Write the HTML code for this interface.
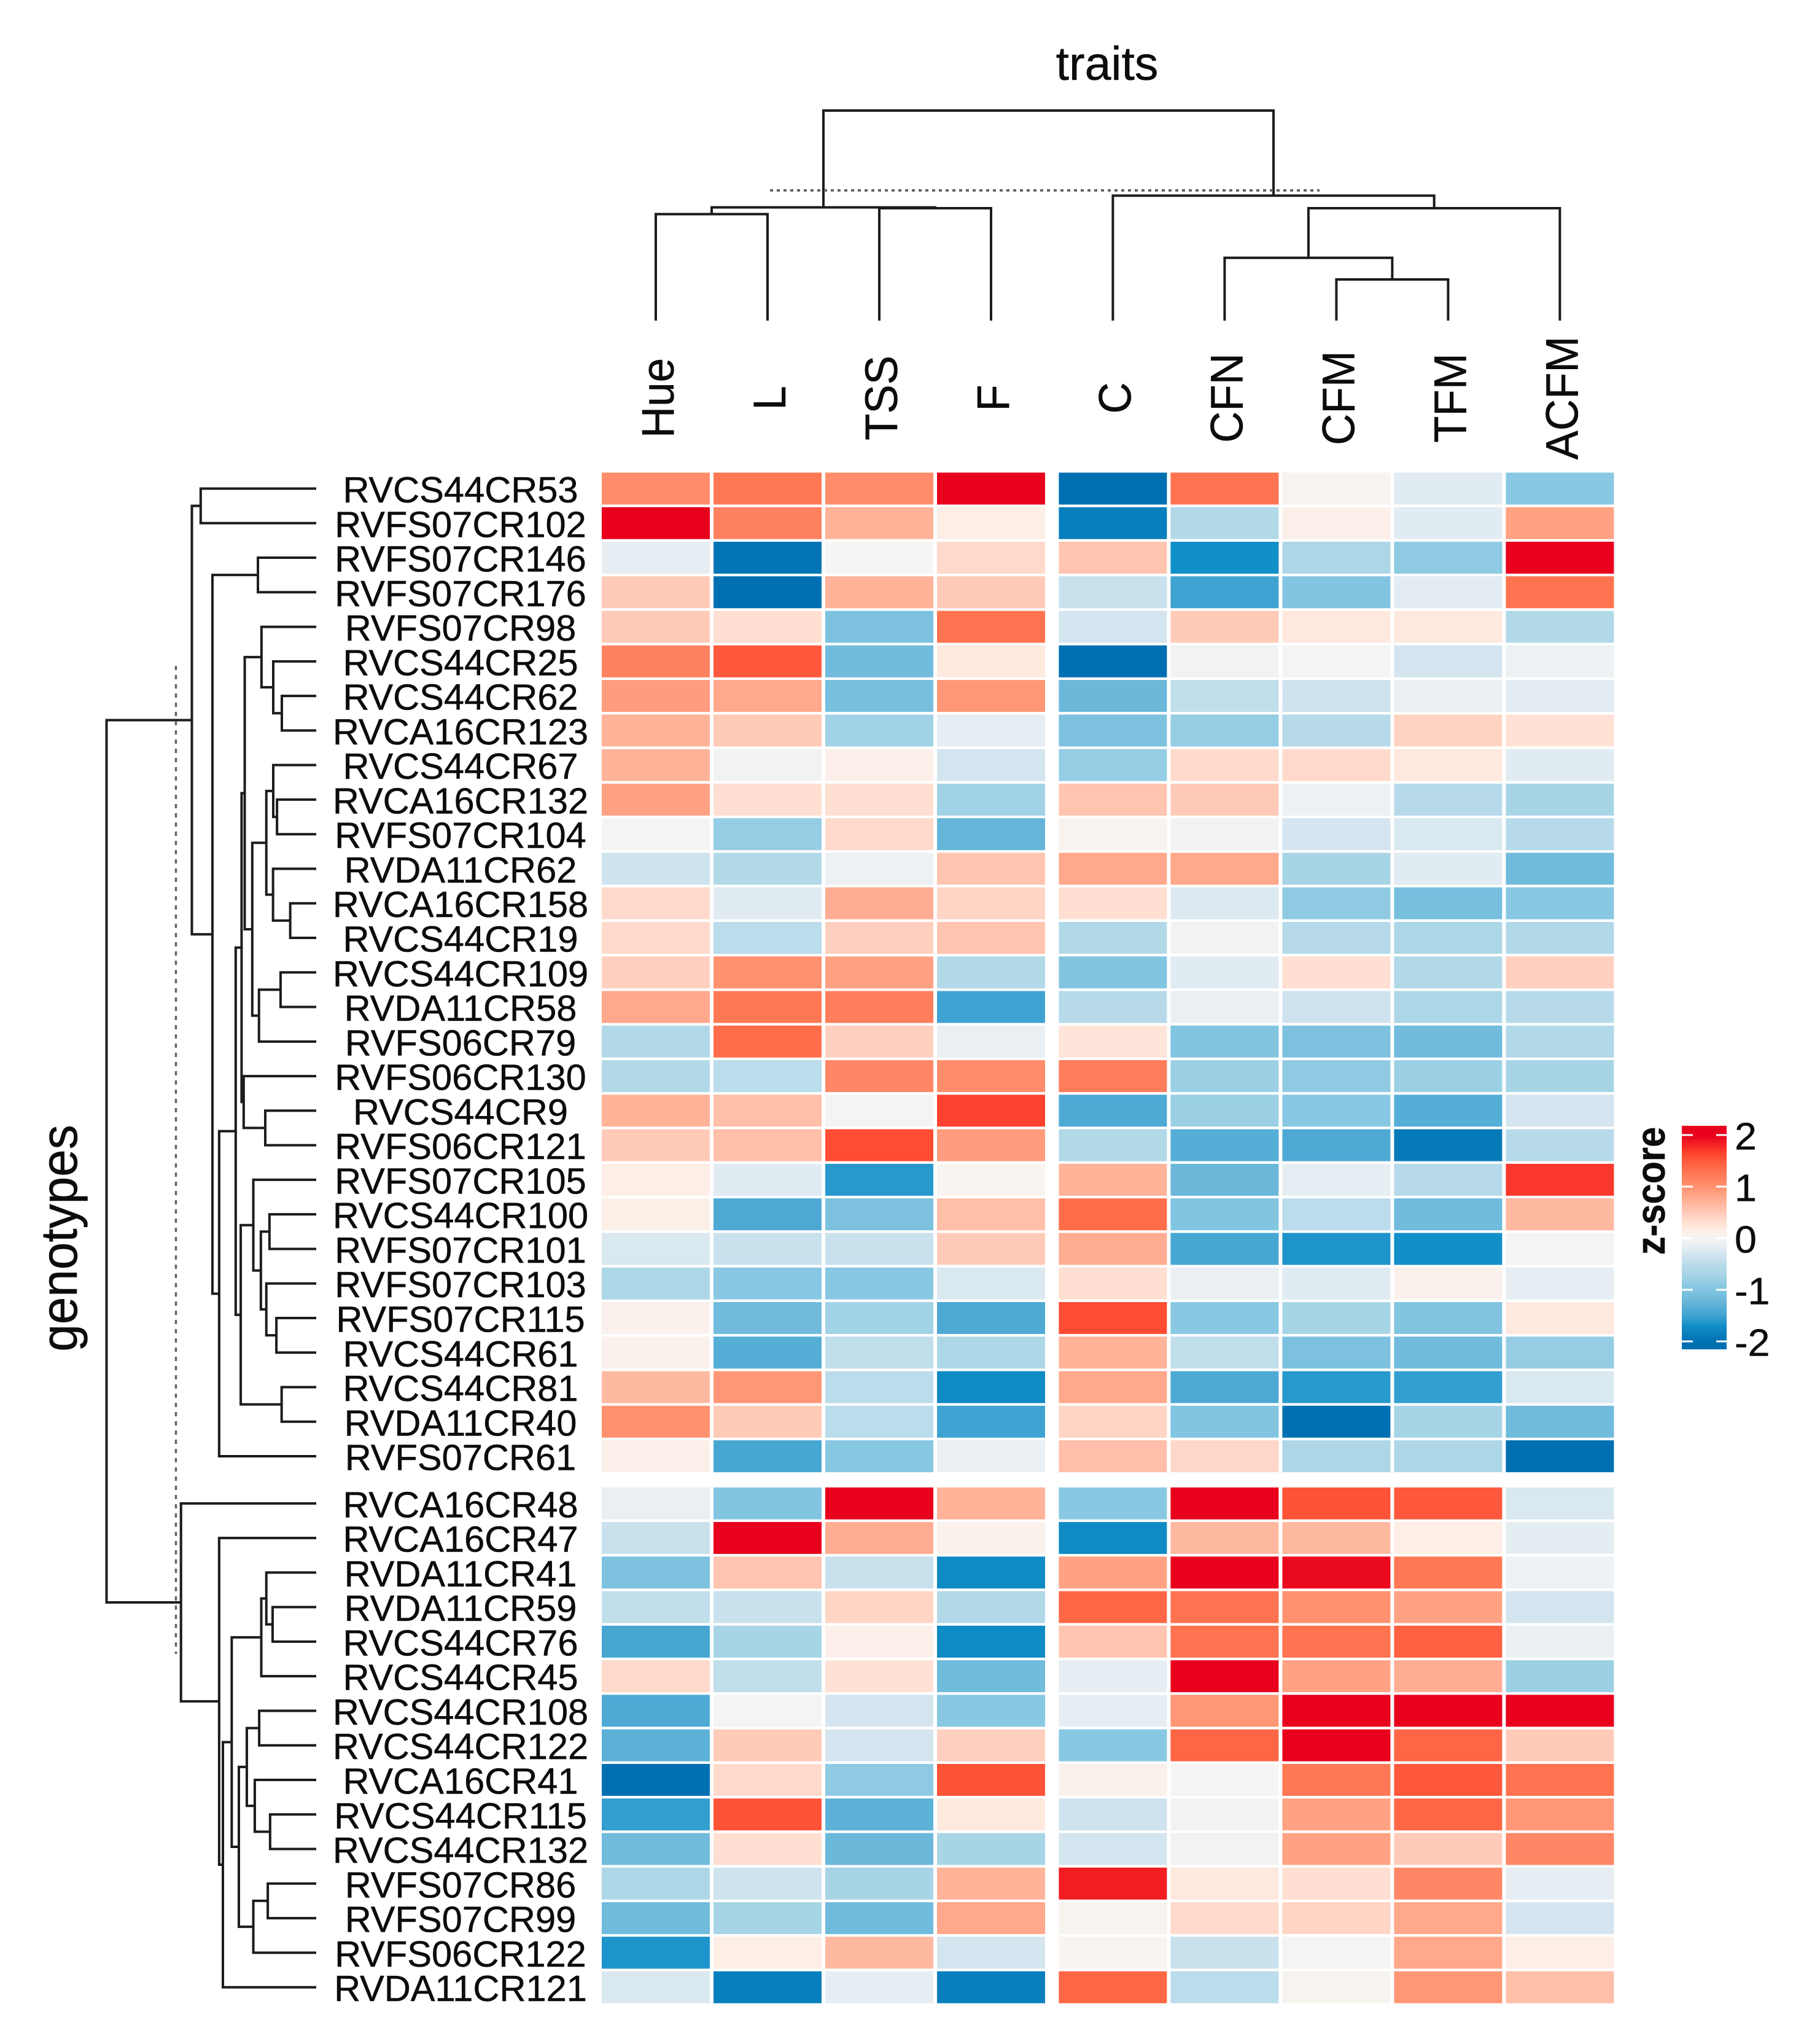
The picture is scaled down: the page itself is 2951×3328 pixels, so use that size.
<!DOCTYPE html>
<html lang="en">
<head>
<meta charset="utf-8">
<title>Genotype by trait z-score heatmap</title>
<style>
  html, body { margin: 0; padding: 0; background: #fff; }
  svg { display: block; }
  text { font-family: "Liberation Sans", Arial, sans-serif; fill: #0c0c0c; stroke: #0c0c0c; stroke-width: 0.5; }
</style>
</head>
<body>
<svg id="chart" xmlns="http://www.w3.org/2000/svg" width="2951" height="3328" viewBox="0 0 2951 3328">
  <rect x="0" y="0" width="2951" height="3328" fill="#ffffff"/>
  <text text-anchor="middle" font-size="77" transform="translate(1803,130)">traits</text>
  <text text-anchor="middle" font-size="80" transform="translate(125,2016) rotate(-90) scale(1,1.04)">genotypes</text>
  <g id="col-dendrogram"></g>
  <g id="row-dendrogram"></g>
  <line x1="1254" y1="310" x2="2149" y2="310" stroke="#666" stroke-width="4" stroke-dasharray="5 6"/>
  <line x1="286.5" y1="1084" x2="286.5" y2="2693" stroke="#666" stroke-width="3.5" stroke-dasharray="7 8"/>
  <g id="col-labels"></g>
  <g id="row-labels"></g>
  <g id="cells"></g>
  <g id="legend">
    <text text-anchor="middle" font-size="59.5" font-weight="700" transform="translate(2711,1939) rotate(-90) scale(1,1.1)">z-score</text>
  </g>
</svg>
<script>
// ---- Chart data ----
const traitLabels = ["Hue","L","TSS","F","C","CFN","CFM","TFM","ACFM"];
const genotypeLabels = [
  "RVCS44CR53","RVFS07CR102","RVFS07CR146","RVFS07CR176","RVFS07CR98","RVCS44CR25","RVCS44CR62","RVCA16CR123",
  "RVCS44CR67","RVCA16CR132","RVFS07CR104","RVDA11CR62","RVCA16CR158","RVCS44CR19","RVCS44CR109","RVDA11CR58",
  "RVFS06CR79","RVFS06CR130","RVCS44CR9","RVFS06CR121","RVFS07CR105","RVCS44CR100","RVFS07CR101","RVFS07CR103",
  "RVFS07CR115","RVCS44CR61","RVCS44CR81","RVDA11CR40","RVFS07CR61",
  "RVCA16CR48","RVCA16CR47","RVDA11CR41","RVDA11CR59","RVCS44CR76","RVCS44CR45","RVCS44CR108","RVCS44CR122",
  "RVCA16CR41","RVCS44CR115","RVCS44CR132","RVFS07CR86","RVFS07CR99","RVFS06CR122","RVDA11CR121"
];
const zScores = [
  [1.05,1.25,1.05,2,-2,1.3,0.05,-0.2,-0.95],
  [2,1.15,0.7,0.15,-1.85,-0.6,0.12,-0.2,0.85],
  [-0.15,-1.95,0,0.35,0.55,-1.7,-0.65,-0.9,2],
  [0.5,-2,0.7,0.5,-0.4,-1.5,-1,-0.18,1.3],
  [0.5,0.3,-1.05,1.3,-0.3,0.5,0.2,0.2,-0.6],
  [1.15,1.5,-1.15,0.2,-2,-0.05,-0.02,-0.3,-0.08],
  [0.9,0.8,-1.1,0.95,-1.2,-0.45,-0.35,-0.12,-0.18],
  [0.7,0.5,-0.75,-0.15,-1.05,-0.85,-0.55,0.42,0.28],
  [0.7,-0.05,0.12,-0.3,-0.85,0.35,0.35,0.2,-0.2],
  [0.85,0.3,0.3,-0.75,0.55,0.5,-0.08,-0.55,-0.7],
  [-0.02,-0.85,0.35,-1.25,0.05,-0.05,-0.3,-0.25,-0.55],
  [-0.35,-0.6,-0.08,0.55,0.8,0.8,-0.7,-0.2,-1.15],
  [0.35,-0.2,0.75,0.4,0.3,-0.22,-0.9,-1.1,-0.95],
  [0.35,-0.5,0.45,0.55,-0.6,-0.05,-0.55,-0.65,-0.6],
  [0.45,1,0.85,-0.6,-1,-0.2,0.3,-0.6,0.45],
  [0.8,1.25,1.2,-1.5,-0.55,-0.12,-0.35,-0.65,-0.55],
  [-0.6,1.35,0.45,-0.12,0.25,-1,-1.05,-1.15,-0.6],
  [-0.6,-0.5,1.1,1.05,1.2,-0.8,-0.9,-0.8,-0.7],
  [0.7,0.6,-0.02,1.65,-1.4,-0.8,-0.95,-1.35,-0.3],
  [0.5,0.6,1.6,0.9,-0.6,-1.35,-1.4,-1.9,-0.55],
  [0.15,-0.2,-1.6,0.02,0.7,-1.2,-0.15,-0.55,1.7],
  [0.13,-1.4,-1.05,0.6,1.35,-1,-0.5,-1.15,0.65],
  [-0.25,-0.4,-0.4,0.5,0.75,-1.45,-1.65,-1.7,-0.02],
  [-0.65,-0.95,-0.95,-0.25,0.3,-0.12,-0.2,0.08,-0.15],
  [0.08,-1.15,-0.75,-1.4,1.6,-0.95,-0.7,-1,0.2],
  [0.08,-1.35,-0.45,-0.65,0.7,-0.45,-1.05,-1.15,-0.85],
  [0.65,0.95,-0.5,-1.75,0.8,-1.4,-1.6,-1.55,-0.25],
  [1,0.5,-0.5,-1.5,0.4,-1,-2,-0.7,-1.15],
  [0.12,-1.45,-0.95,-0.12,0.6,0.38,-0.65,-0.65,-2],
  [-0.12,-1,2,0.7,-0.95,2,1.55,1.5,-0.25],
  [-0.4,2,0.75,0.08,-1.75,0.65,0.65,0.15,-0.17],
  [-1.05,0.55,-0.4,-1.75,0.85,2,1.95,1.25,-0.08],
  [-0.45,-0.4,0.4,-0.6,1.4,1.3,1,0.85,-0.3],
  [-1.45,-0.7,0.12,-1.75,0.55,1.3,1.3,1.45,-0.1],
  [0.35,-0.45,0.28,-1.15,-0.15,2,0.85,0.75,-0.8],
  [-1.4,-0.02,-0.3,-0.95,-0.15,0.95,2,2,2],
  [-1.3,0.5,-0.3,0.45,-0.95,1.4,2,1.4,0.5],
  [-2,0.35,-0.9,1.55,0.08,0,1.25,1.5,1.3],
  [-1.55,1.55,-1.3,0.2,-0.35,-0.05,0.85,1.4,0.95],
  [-1.15,0.3,-1.2,-0.7,-0.3,-0.05,0.85,0.5,1.1],
  [-0.65,-0.35,-0.7,0.7,1.85,0.2,0.3,1.1,-0.15],
  [-1.15,-0.7,-1.15,0.8,0.03,0.35,0.4,0.8,-0.3],
  [-1.65,0.15,0.65,-0.3,0.02,-0.4,-0.02,0.8,0.15],
  [-0.25,-1.85,-0.15,-1.85,1.4,-0.5,0.03,0.95,0.6]
];
// dendrogram merges: [left child, right child, merge height]; leaves are indices
const traitTree = [[[0,1,5.07],[2,3,5.35],5.39],[4,[[5,[6,7,1.96],2.99],8,5.35],5.95],10];
const genotypeTree = [
  [
    [0,1,5.51],
    [[2,3,2.78],
     [[[[[4,[5,[6,7,1.64],2.05],2.61],
        [[[8,[9,10,1.87],2.05],[11,[12,13,1.24],2.06],2.38],[[14,15,1.70],16,2.73],3.05],3.41],
       [17,[18,19,2.43],3.46],3.56],
      [[20,[[21,22,2.23],[23,[24,25,1.90],2.38],2.64],3.00],[26,27,1.65],3.60],3.84],
      28,4.63],4.95],5.93],
  [29,[30,[[[[31,[32,33,2.08],2.38],34,2.62],
        [[[35,36,2.72],[37,[38,39,2.20],2.93],3.31],[[40,41,2.31],42,3.00],3.69],4.03],
       43,4.45],4.63],6.45],
  10
];
const legendTicks = [2,1,0,-1,-2];
const colorValues = [-2,-1.7,-1.5,-1.2,-1,-0.7,-0.5,-0.3,-0.15,0,0.15,0.3,0.5,0.7,1,1.3,1.6,1.8,2];
const colorHexes = ["#0070b2","#118fc8","#3fa3d2","#6bb8da","#82c5e1","#a8d5e6","#bbdcea","#d4e5ef","#e6eef3","#f6f5f3","#fdeee6","#ffdfd2","#ffcbb8","#ffb399","#ff916f","#ff7350","#ff4c33","#f52525","#e8001c"];

// ---- Axis functions ----
const SVG_NS = "http://www.w3.org/2000/svg";
function colCenter(i) { return colLeft(i) + 88; }
function colLeft(i) { return 980 + i * 182 + (i >= 4 ? 16.4 : 0); }
function rowTop(i) { return 769.5 + i * 56.27 + (i >= 29 ? 20.5 : 0); }
function rowCenter(i) { return rowTop(i) + 26; }
function colHeightY(h) { return 522 - h * 34.2; }
function rowHeightX(h) { return 515 - h * 34.15; }
function legendY(v) { return 2016 - v * 84; }

function hexToRgb(hex) {
  return [parseInt(hex.slice(1,3),16), parseInt(hex.slice(3,5),16), parseInt(hex.slice(5,7),16)];
}
function colorOf(v) {
  const c = Math.max(colorValues[0], Math.min(colorValues[colorValues.length-1], v));
  for (let i = 1; i < colorValues.length; i++) {
    if (c <= colorValues[i]) {
      const t = (c - colorValues[i-1]) / (colorValues[i] - colorValues[i-1]);
      const a = hexToRgb(colorHexes[i-1]), b = hexToRgb(colorHexes[i]);
      return "rgb(" + a.map((x,k) => Math.round(x + (b[k]-x)*t)).join(",") + ")";
    }
  }
  return colorHexes[colorHexes.length-1];
}
function mk(tag, attrs, parent) {
  const el = document.createElementNS(SVG_NS, tag);
  for (const k in attrs) el.setAttribute(k, attrs[k]);
  parent.appendChild(el);
  return el;
}

// ---- Heatmap cells ----
const cellsG = document.getElementById("cells");
zScores.forEach((row, r) => {
  row.forEach((v, c) => {
    const el = mk("rect", {x: colLeft(c), y: rowTop(r), width: 176, height: 52, fill: colorOf(v)}, cellsG);
    
    
  });
});

// ---- Labels ----
const rowLabelG = document.getElementById("row-labels");
genotypeLabels.forEach((label, r) => {
  const el = mk("text", {"text-anchor": "middle", "font-size": 59.6,
    transform: "translate(750," + (rowCenter(r) + 22.5) + ")"}, rowLabelG);
  el.textContent = label;
  
  
});
const colLabelG = document.getElementById("col-labels");
traitLabels.forEach((label, c) => {
  const el = mk("text", {"text-anchor": "middle", "font-size": 71,
    transform: "translate(" + (colCenter(c) + 29) + ",648) rotate(-90) scale(1,1.04)"}, colLabelG);
  el.textContent = label;
  
  
});

// ---- Dendrograms ----
function drawColNode(node, parent) {
  if (typeof node === "number") return {pos: colCenter(node), h: 0};
  const a = drawColNode(node[0], parent), b = drawColNode(node[1], parent), h = node[2];
  const d = "M" + a.pos + " " + colHeightY(a.h) + "V" + colHeightY(h) + "H" + b.pos + "V" + colHeightY(b.h);
  const el = mk("path", {d: d, fill: "none", stroke: "#1c1c1c", "stroke-width": 4}, parent);
  
  
  return {pos: (a.pos + b.pos) / 2, h: h};
}
function drawRowNode(node, parent) {
  if (typeof node === "number") return {pos: rowCenter(node), h: 0};
  const a = drawRowNode(node[0], parent), b = drawRowNode(node[1], parent), h = node[2];
  const d = "M" + rowHeightX(a.h) + " " + a.pos + "H" + rowHeightX(h) + "V" + b.pos + "H" + rowHeightX(b.h);
  const el = mk("path", {d: d, fill: "none", stroke: "#1c1c1c", "stroke-width": 4}, parent);
  
  
  return {pos: (a.pos + b.pos) / 2, h: h};
}
drawColNode(traitTree, document.getElementById("col-dendrogram"));
drawRowNode(genotypeTree, document.getElementById("row-dendrogram"));

// ---- Legend ----
const legendG = document.getElementById("legend");
const svgRoot = document.getElementById("chart");
const defs = mk("defs", {}, svgRoot);
const grad = mk("linearGradient", {id: "legend-gradient", x1: 0, y1: 0, x2: 0, y2: 1}, defs);
const legendTop = 1833, legendBottom = 2197;
colorValues.slice().reverse().forEach((v) => {
  const off = (legendY(v) - legendTop) / (legendBottom - legendTop);
  mk("stop", {offset: off, "stop-color": colorOf(v)}, grad);
});
const legendBar = mk("rect", {x: 2739, y: legendTop, width: 73, height: legendBottom - legendTop, fill: "url(#legend-gradient)"}, legendG);


legendTicks.forEach((v) => {
  const y = legendY(v);
  const left = mk("line", {x1: 2739, x2: 2757, y1: y, y2: y, stroke: "#fff", "stroke-width": 3}, legendG);
  
  
  const right = mk("line", {x1: 2795, x2: 2812, y1: y, y2: y, stroke: "#fff", "stroke-width": 3}, legendG);
  
  
  const t = mk("text", {"font-size": 62, transform: "translate(2825," + (y + 23.5) + ") scale(1.04,1)"}, legendG);
  t.textContent = String(v);
  
  
});
</script>
</body>
</html>
